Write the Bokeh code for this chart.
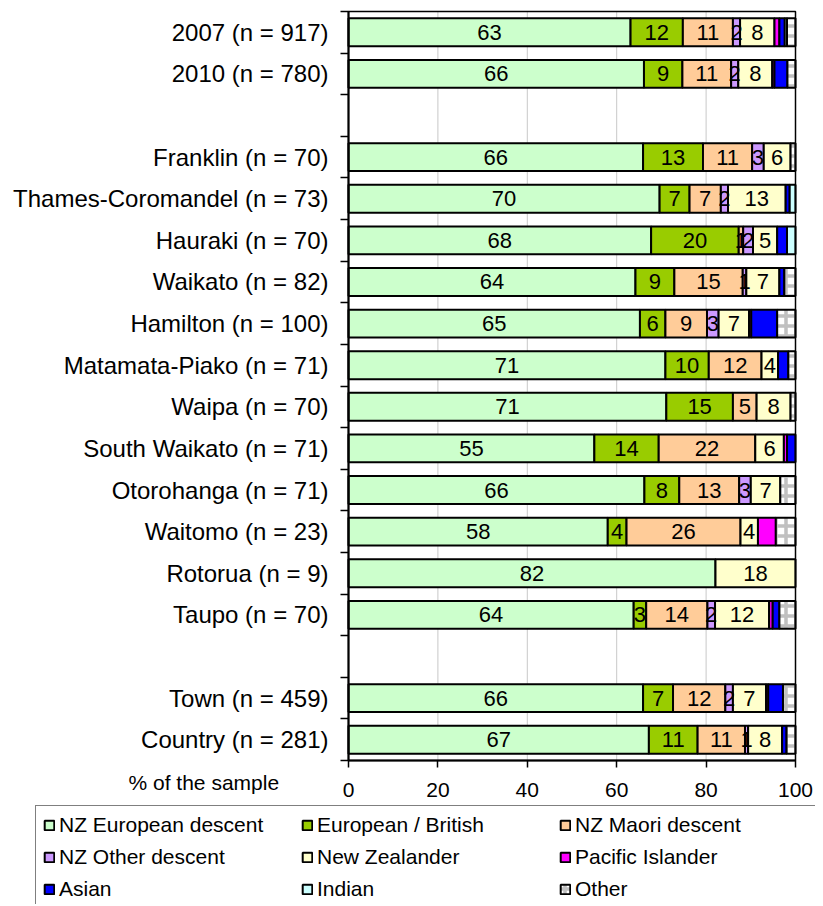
from bokeh.plotting import figure
from bokeh.models import (ColumnDataSource, Range1d, FixedTicker, Legend, LegendItem, Label)
from bokeh.core.properties import value
from bokeh.embed import file_html
from bokeh.resources import INLINE

# ---------------- data ----------------
rows = ["2007 (n = 917)", "2010 (n = 780)", "",
        "Franklin (n = 70)", "Thames-Coromandel (n = 73)", "Hauraki (n = 70)",
        "Waikato (n = 82)", "Hamilton (n = 100)", "Matamata-Piako (n = 71)",
        "Waipa (n = 70)", "South Waikato (n = 71)", "Otorohanga (n = 71)",
        "Waitomo (n = 23)", "Rotorua (n = 9)", "Taupo (n = 70)", "",
        "Town (n = 459)", "Country (n = 281)"]

series_names = ["NZ European descent", "European / British", "NZ Maori descent",
                "NZ Other descent", "New Zealander", "Pacific Islander",
                "Asian", "Indian", "Other"]

nz_european = [63.1, 66.1, 65.9, 69.6, 67.7, 64.2, 65.2, 70.9, 71.1, 55.0, 66.2, 58.0, 82.1, 63.8, 65.9, 67.2]
european_british = [11.7, 8.6, 13.4, 6.7, 19.6, 8.7, 5.7, 9.7, 14.9, 14.4, 7.8, 4.2, 0.0, 2.8, 6.7, 10.9]
nz_maori = [11.2, 10.9, 11.0, 7.0, 1.0, 15.3, 9.3, 11.8, 5.3, 21.6, 13.4, 25.5, 0.0, 13.7, 11.7, 10.6]
nz_other = [1.6, 1.6, 2.6, 1.6, 2.2, 0.8, 2.6, 0.0, 0.0, 0.0, 2.6, 0.0, 0.0, 1.7, 1.7, 0.7]
new_zealander = [7.7, 7.6, 6.0, 12.9, 5.4, 7.4, 6.8, 3.7, 7.6, 6.4, 6.6, 3.9, 17.9, 12.1, 7.4, 7.6]
pacific = [1.1, 0.5, 0.0, 0.0, 0.0, 0.0, 0.5, 0.0, 0.0, 0.7, 0.0, 4.0, 0.0, 0.8, 0.5, 0.0]
asian = [1.2, 2.9, 0.0, 0.9, 2.2, 1.1, 5.8, 2.3, 0.0, 1.9, 0.0, 0.0, 0.0, 1.5, 3.3, 1.0]
indian = [0.5, 0.0, 0.0, 1.3, 1.9, 0.0, 0.0, 0.0, 0.0, 0.0, 0.0, 0.0, 0.0, 0.0, 0.0, 0.0]
other = [1.9, 1.8, 1.1, 0.0, 0.0, 2.5, 4.1, 1.6, 1.1, 0.0, 3.4, 4.4, 0.0, 3.6, 2.8, 2.0]

x_ticks = [0, 20, 40, 60, 80, 100]
axis_title = "% of the sample"

series_values = [nz_european, european_british, nz_maori, nz_other, new_zealander,
                 pacific, asian, indian, other]
colors = ["#CCFFCC", "#99CC00", "#FFCC99", "#CC99FF", "#FFFFCC",
          "#FF00FF", "#0000FF", "#CCFFFF", "#FFFFFF"]
labelled = [True, True, True, True, True, False, False, False, False]

FONT = "Liberation Sans"

# ---------------- layout (pixels) ----------------
W, H = 815, 904
PL, PR, PT, PB = 348, 795, 11, 760          # plot-area box on the canvas
n_rows = len(rows)
xpx = (PR - PL) / (x_ticks[-1] - x_ticks[0])
ypx = (PB - PT) / n_rows
x_range = Range1d(x_ticks[0] - PL / xpx, x_ticks[-1] + (W - PR) / xpx)
y_range = Range1d(0 - (H - PB) / ypx, n_rows + PT / ypx)

y_all = [n_rows - 0.5 - i for i in range(n_rows)]
y_bars = [y for y, r in zip(y_all, rows) if r]

p = figure(width=W, height=H, output_backend="svg", toolbar_location=None,
           x_range=x_range, y_range=y_range, min_border=0)
p.outline_line_color = None
p.background_fill_color = "white"
p.border_fill_color = "white"
p.xgrid.grid_line_color = None
p.ygrid.grid_line_color = None

# vertical grid lines inside the plot area
p.segment(x0=x_ticks[1:-1], y0=0, x1=x_ticks[1:-1], y1=n_rows,
          line_color="#C8C8C8", line_width=1)

cum = [0.0] * len(y_bars)
legend_items = []
lab_x, lab_y, lab_t = [], [], []
for k, (name, vals, col) in enumerate(zip(series_names, series_values, colors)):
    ys, ls, rs = [], [], []
    for i, v in enumerate(vals):
        if v > 0:
            ys.append(y_bars[i]); ls.append(cum[i]); rs.append(cum[i] + v)
            if labelled[k] and round(v) >= 1:
                lab_x.append(cum[i] + v / 2); lab_y.append(y_bars[i]); lab_t.append(str(round(v)))
        cum[i] += v
    src = ColumnDataSource(dict(y=ys, left=ls, right=rs))
    kw = {}
    if name == "Other":
        kw = dict(hatch_pattern="+", hatch_color="#C0C0C0", hatch_scale=10,
                  hatch_weight=3.5, hatch_alpha=1.0)
    r = p.hbar(y="y", left="left", right="right", height=0.67, source=src,
               fill_color=col, line_color="black", line_width=2, **kw)
    legend_items.append(LegendItem(label=name, renderers=[r]))

lab_src = ColumnDataSource(dict(x=lab_x, y=lab_y, t=lab_t))
p.text(x="x", y="y", text="t", source=lab_src, text_align="center",
       text_baseline="middle", text_font=value(FONT), text_font_size="22px",
       text_color="black")

# plot-area border (top / right)
p.quad(left=x_ticks[0], right=x_ticks[-1], bottom=0, top=n_rows,
       fill_color=None, line_color="black", line_width=1.5)

# ---------------- axes ----------------
p.xaxis.fixed_location = 0
p.xaxis.bounds = (x_ticks[0], x_ticks[-1])
p.xaxis.ticker = FixedTicker(ticks=x_ticks)
p.xaxis.major_tick_out = 7
p.xaxis.major_tick_in = 0
p.xaxis.minor_tick_out = 0
p.xaxis.minor_tick_in = 0
p.xaxis.axis_line_width = 2
p.xaxis.axis_line_color = "black"
p.xaxis.major_tick_line_width = 1.5
p.xaxis.major_label_text_font = FONT
p.xaxis.major_label_text_font_size = "21px"
p.xaxis.major_label_text_color = "black"
p.xaxis.major_label_standoff = 15

p.yaxis.fixed_location = 0
p.yaxis.bounds = (0, n_rows)
p.yaxis.ticker = FixedTicker(ticks=y_bars, minor_ticks=list(range(n_rows + 1)))
p.yaxis.major_label_overrides = {y: r for y, r in zip(y_all, rows) if r}
p.yaxis.major_tick_out = 0
p.yaxis.major_tick_in = 0
p.yaxis.minor_tick_out = 8
p.yaxis.minor_tick_in = 0
p.yaxis.minor_tick_line_width = 1.5
p.yaxis.minor_tick_line_color = "black"
p.yaxis.axis_line_width = 2
p.yaxis.axis_line_color = "black"
p.yaxis.major_label_text_font = FONT
p.yaxis.major_label_text_font_size = "24px"
p.yaxis.major_label_text_color = "black"
p.yaxis.major_label_standoff = 12

p.add_layout(Label(x=128, y=H - 782, x_units="screen", y_units="screen",
                   text=axis_title, text_font=FONT, text_font_size="21px",
                   text_color="black", text_baseline="alphabetic"))

legend_top = 807
legend_h_est = 2 * 7 + 3 * 24 + 2 * 8
legend = Legend(items=legend_items, orientation="horizontal", ncols=3,
                location=(35, H - legend_top - legend_h_est), padding=7, spacing=8,
                margin=0, glyph_width=12, glyph_height=12, label_standoff=4,
                label_width=234, label_text_font=FONT, label_text_font_size="21px",
                label_text_color="black", border_line_color="black",
                border_line_width=1.5, background_fill_color="white",
                background_fill_alpha=1)
p.add_layout(legend)

open("out.html", "w").write(file_html(p, INLINE))
